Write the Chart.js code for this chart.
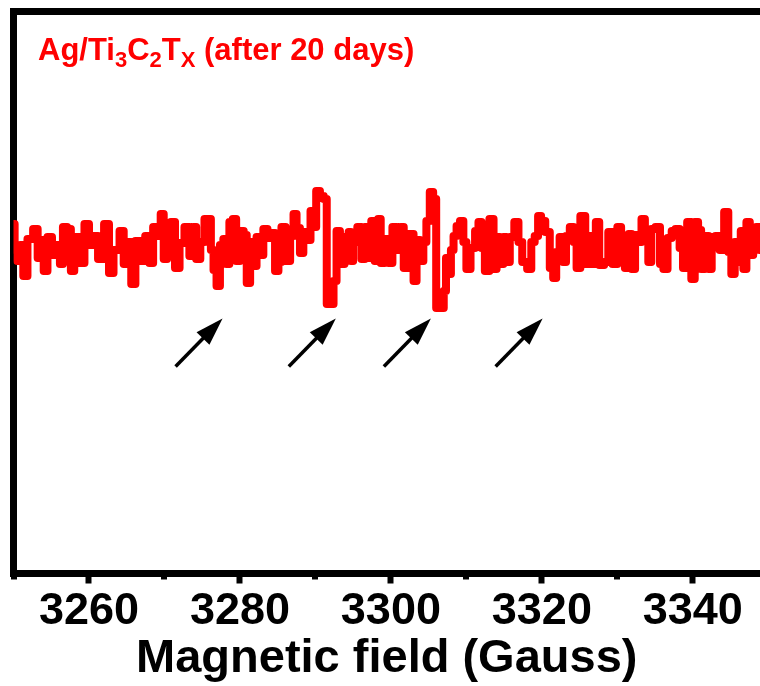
<!DOCTYPE html>
<html>
<head>
<meta charset="utf-8">
<title>EPR spectrum</title>
<script src="https://cdn.jsdelivr.net/npm/chart.js@4.4.1/dist/chart.umd.min.js"></script>
<style>
    html, body { margin: 0; padding: 0; background: #fff; overflow: hidden; }
    #epr-chart { display: block; }
</style>
</head>
<body>
<canvas id="epr-chart" width="760" height="686"></canvas>
<script>
// Campo magnético (G) e sinal EPR (u.a.)
const fieldGauss = [
    3250.0, 3250.3, 3250.7, 3251.1, 3251.5, 3252.2, 3253.0, 3253.4, 3253.8, 3254.2,
    3254.8, 3255.4, 3255.9, 3256.4, 3256.7, 3257.5, 3257.7, 3258.4, 3259.1, 3259.7,
    3260.3, 3260.9, 3261.5, 3262.5, 3262.8, 3263.7, 3264.4, 3264.8, 3265.4, 3265.8,
    3266.5, 3267.2, 3267.7, 3268.3, 3268.7, 3269.3, 3269.7, 3270.1, 3270.6, 3271.1,
    3271.7, 3272.3, 3273.0, 3273.6, 3274.0, 3274.4, 3275.1, 3275.5, 3276.0, 3276.3,
    3276.7, 3277.1, 3277.6, 3278.0, 3278.4, 3278.8, 3279.3, 3279.7, 3280.3, 3280.7,
    3281.1, 3281.6, 3282.0, 3282.4, 3282.9, 3283.3, 3284.0, 3284.4, 3284.9, 3285.3,
    3285.7, 3286.4, 3286.9, 3287.3, 3287.7, 3288.2, 3288.6, 3289.0, 3289.7, 3289.9,
    3290.3, 3290.9, 3291.3, 3291.7, 3292.2, 3292.6, 3293.0, 3293.5, 3294.2, 3294.6,
    3294.8, 3295.2, 3295.9, 3296.3, 3296.8, 3297.2, 3297.6, 3298.1, 3298.5, 3298.8,
    3299.5, 3299.9, 3300.5, 3301.1, 3301.5, 3301.9, 3302.8, 3303.2, 3303.6, 3304.1,
    3304.5, 3304.9, 3305.4, 3305.8, 3306.2, 3306.8, 3307.2, 3307.4, 3307.8, 3308.1,
    3308.5, 3308.9, 3309.4, 3309.8, 3310.2, 3310.9, 3311.4, 3311.8, 3312.2, 3312.7,
    3313.4, 3313.8, 3314.2, 3314.7, 3315.1, 3315.5, 3316.0, 3316.7, 3317.1, 3317.7,
    3318.4, 3318.8, 3319.3, 3319.7, 3320.1, 3320.8, 3321.3, 3321.7, 3322.1, 3322.6,
    3323.0, 3323.4, 3324.0, 3324.4, 3324.8, 3325.4, 3326.1, 3326.6, 3327.0, 3327.3,
    3327.9, 3328.6, 3329.0, 3329.7, 3330.3, 3330.7, 3331.3, 3331.7, 3332.1, 3332.6,
    3333.0, 3333.4, 3333.9, 3334.3, 3334.7, 3335.4, 3335.9, 3336.3, 3337.0, 3337.4,
    3338.0, 3338.5, 3338.9, 3339.6, 3340.0, 3340.5, 3340.9, 3341.3, 3341.9, 3342.3,
    3342.7, 3343.3, 3343.8, 3344.5, 3344.9, 3345.3, 3345.8, 3346.2, 3346.5, 3346.9,
    3347.3, 3347.8, 3348.2, 3348.6, 3349.1
];

const eprSignal = [
    21, -5, -16, 0, -31, 6, 16, -13, 5, -26,
    8, -10, 0, -19, 18, 16, -26, 8, -18, 21,
    0, 9, -14, 21, -28, -5, 14, -19, 3, -39,
    4, -16, 9, -18, 18, 9, 31, -14, 0, 23,
    -23, 2, 18, -11, 18, -14, 3, 26, 26, -5,
    -25, -41, 0, 6, -19, 23, 26, -16, 14, 10,
    -38, 3, -21, 8, -10, 16, 7, 12, -26, -17,
    18, -16, 9, 31, 17, -8, 13, 5, 34, 18,
    54, 49, 46, -59, -59, -36, 14, -19, 8, 13,
    -16, 3, 18, -14, 18, -13, 24, -16, 26, -18,
    6, -18, 18, -5, 18, -23, 11, -36, 5, -16,
    3, 24, 53, 46, -63, -63, -46, -13, -29, -5,
    9, 19, 24, 3, -24, -3, 14, 23, -3, -26,
    26, -24, 8, -19, 8, -17, 8, 23, 3, -17,
    -24, 3, 9, 29, 24, 13, -23, -33, -7, 8,
    -17, 9, 18, 3, -23, 29, -19, 9, -19, 23,
    -20, -17, 13, -19, 18, 0, -23, 11, -24, 10,
    3, 26, 10, -17, 16, 18, -19, -24, 7, 14,
    16, -3, -23, 23, -34, 23, 15, -24, 9, -24,
    8, 9, -5, 33, -7, -29, 3, -17, 14, -24,
    23, -10, 13, 18, -5
];

// Marcas do eixo X
const majorTicks = [3260, 3280, 3300, 3320, 3340];
const minorTicks = [3250, 3270, 3290, 3310, 3330];

// Setas indicando as linhas do sinal
const arrowFields = [3277.7, 3292.7, 3305.3, 3320.1];
const arrowLevel = -73.5;

const sampleLabel = [
    { text: 'Ag/Ti', sub: false },
    { text: '3', sub: true },
    { text: 'C', sub: false },
    { text: '2', sub: true },
    { text: 'T', sub: false },
    { text: 'X', sub: true },
    { text: ' (after 20 days)', sub: false }
];

const FONT = "'Liberation Sans', Arial, Helvetica, sans-serif";
const RED = '#ff0000';
const AXIS_WIDTH = 7;

/**
 * Desenha marcas menores, setas e o rótulo da amostra
 */
const annotationsPlugin = {
    id: 'eprAnnotations',
    afterDraw(chart) {
        const { ctx, chartArea } = chart;
        const xScale = chart.scales.x;
        const yScale = chart.scales.y;
        ctx.save();

        // marcas menores do eixo X
        ctx.strokeStyle = '#000';
        ctx.lineWidth = 6;
        minorTicks.forEach(v => {
            const px = Math.round(xScale.getPixelForValue(v));
            ctx.beginPath();
            ctx.moveTo(px, chartArea.bottom);
            ctx.lineTo(px, chartArea.bottom + 6);
            ctx.stroke();
        });

        // setas
        ctx.fillStyle = '#000';
        ctx.lineWidth = 3.5;
        ctx.lineCap = 'butt';
        arrowFields.forEach(f => {
            const tipX = xScale.getPixelForValue(f);
            const tipY = yScale.getPixelForValue(arrowLevel);
            const tailX = tipX - 47;
            const tailY = tipY + 48;
            const ang = Math.atan2(tipY - tailY, tipX - tailX);
            const headLen = 28, headHalf = 9;
            const bx = tipX - headLen * Math.cos(ang);
            const by = tipY - headLen * Math.sin(ang);
            ctx.beginPath();
            ctx.moveTo(tailX, tailY);
            ctx.lineTo(bx + 2 * Math.cos(ang), by + 2 * Math.sin(ang));
            ctx.stroke();
            ctx.beginPath();
            ctx.moveTo(tipX, tipY);
            ctx.lineTo(bx + headHalf * Math.sin(ang), by - headHalf * Math.cos(ang));
            ctx.lineTo(bx - headHalf * Math.sin(ang), by + headHalf * Math.cos(ang));
            ctx.closePath();
            ctx.fill();
        });

        // rótulo da amostra com subscritos
        let tx = chartArea.left + 24.5;
        const ty = chartArea.top + 48.5;
        ctx.fillStyle = RED;
        ctx.textBaseline = 'alphabetic';
        ctx.textAlign = 'left';
        sampleLabel.forEach(part => {
            ctx.font = part.sub ? `bold 22px ${FONT}` : `bold 31px ${FONT}`;
            ctx.fillText(part.text, tx, part.sub ? ty + 7 : ty);
            tx += ctx.measureText(part.text).width;
        });

        ctx.restore();
    }
};

const ctx = document.getElementById('epr-chart').getContext('2d');

const eprChart = new Chart(ctx, {
    type: 'line',
    data: {
        datasets: [{
            label: 'Ag/Ti3C2TX (after 20 days)',
            data: fieldGauss.map((g, i) => ({ x: g, y: eprSignal[i] })),
            borderColor: RED,
            borderWidth: 8,
            borderJoinStyle: 'round',
            borderCapStyle: 'round',
            stepped: 'middle',
            pointRadius: 0,
            fill: false
        }]
    },
    options: {
        responsive: false,
        animation: false,
        devicePixelRatio: 1,
        layout: { padding: 0 },
        plugins: {
            legend: { display: false },
            tooltip: { enabled: false },
            title: { display: false }
        },
        scales: {
            x: {
                type: 'linear',
                position: 'bottom',
                min: 3250,
                max: 3348.9,
                z: 1,
                afterBuildTicks(scale) {
                    scale.ticks = majorTicks.map(v => ({ value: v }));
                },
                afterFit(scale) {
                    scale.height = 112.5;
                },
                border: { display: true, width: AXIS_WIDTH, color: '#000' },
                grid: {
                    display: true,
                    drawOnChartArea: false,
                    drawTicks: true,
                    tickLength: 10,
                    tickWidth: 6,
                    tickColor: '#000'
                },
                ticks: {
                    autoSkip: false,
                    maxRotation: 0,
                    padding: 6,
                    color: '#000',
                    font: { family: FONT, weight: 'bold', size: 45, lineHeight: 1 },
                    callback: v => String(v)
                },
                title: {
                    display: true,
                    text: 'Magnetic field (Gauss)',
                    color: '#000',
                    font: { family: FONT, weight: 'bold', size: 47, lineHeight: 1 },
                    padding: { top: 0, bottom: 3 }
                }
            },
            xTop: {
                type: 'linear',
                position: 'top',
                display: true,
                z: 1,
                afterFit(scale) {
                    scale.height = 11.5;
                },
                border: { display: true, width: AXIS_WIDTH, color: '#000' },
                grid: { display: false, drawTicks: false },
                ticks: { display: false }
            },
            y: {
                type: 'linear',
                position: 'left',
                min: -328.5,
                max: 233.5,
                z: 1,
                afterFit(scale) {
                    scale.width = 13.5;
                },
                border: { display: true, width: AXIS_WIDTH, color: '#000' },
                grid: { display: false, drawTicks: false },
                ticks: { display: false }
            }
        }
    },
    plugins: [annotationsPlugin]
});
</script>
</body>
</html>
